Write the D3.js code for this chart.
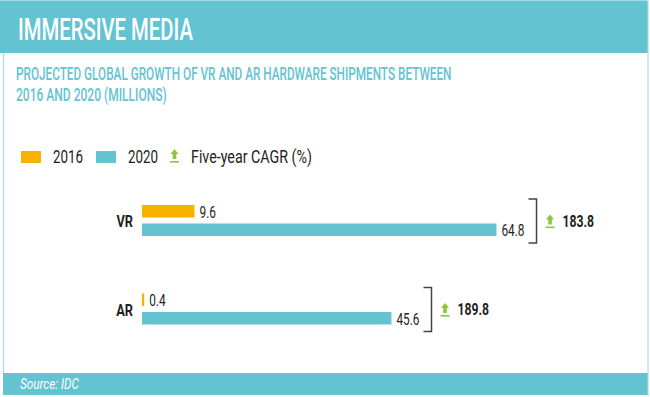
<!DOCTYPE html>
<html><head><meta charset="utf-8">
<script src="https://cdn.jsdelivr.net/npm/d3@7"></script>
<style>html,body{margin:0;padding:0;background:#fff;}svg{display:block;}</style>
</head><body>
<svg id="chart" width="650" height="397"></svg>
<script>
// ---- data ----
const title = "IMMERSIVE MEDIA";
const subtitleLines = ["PROJECTED GLOBAL GROWTH OF VR AND AR HARDWARE SHIPMENTS BETWEEN", "2016 AND 2020 (MILLIONS)"];
const categories = ["VR", "AR"];
const seriesNames = ["2016", "2020"];
const values2016 = [9.6, 0.4];
const values2020 = [64.8, 45.6];
const cagr = [183.8, 189.8];
const cagrLabel = "Five-year CAGR (%)";
const source = "Source: IDC";

const TEAL = "#63C3D1", ORANGE = "#F9B100", GREEN = "#8CC63E", DARK = "#231F20", FRAME = "#A8DCE4";
const FONT = "Roboto, 'DejaVu Sans', sans-serif";

const svg = d3.select("#chart");

// frame
svg.append("rect").attr("x", 0).attr("y", 1).attr("width", 648).attr("height", 52).attr("fill", TEAL);
svg.append("rect").attr("x", 3).attr("y", 373).attr("width", 645).attr("height", 22).attr("fill", TEAL);
svg.append("line").attr("x1", 3.5).attr("x2", 3.5).attr("y1", 53).attr("y2", 373).attr("stroke", FRAME).attr("stroke-width", 1.2);
svg.append("line").attr("x1", 648).attr("x2", 648).attr("y1", 0).attr("y2", 396).attr("stroke", FRAME).attr("stroke-width", 1.2);
svg.append("line").attr("x1", 0).attr("x2", 648).attr("y1", 0.5).attr("y2", 0.5).attr("stroke", FRAME).attr("stroke-width", 1);

// helper: condensed text (horizontal scale; if len given, scale to that width)
function txt(parent, x, y, str, o) {
  const t = parent.append("text")
    .attr("font-family", FONT)
    .attr("font-size", o.size)
    .attr("font-weight", o.weight || 400)
    .attr("font-style", o.style || "normal")
    .attr("fill", o.fill || DARK)
    .attr("text-anchor", o.anchor || "start")
    .text(str);
  let sx = o.sx || 0.75;
  if (o.len) sx = o.len / t.node().getComputedTextLength();
  t.attr("transform", `translate(${x},${y}) scale(${sx},1)`);
  t.datum({sx});
  return t;
}

txt(svg, 18, 40, title, {size: 31, weight: 500, fill: "#fff", len: 175});
txt(svg, 16, 80, subtitleLines[0], {size: 18, weight: 500, fill: TEAL, len: 436});
txt(svg, 16, 101, subtitleLines[1], {size: 18, weight: 500, fill: TEAL, len: 151});
txt(svg, 20, 389, source, {size: 15, fill: "#fff", style: "italic", len: 59});

function arrow(parent, x, y) {
  const g = parent.append("g").attr("transform", `translate(${x},${y})`);
  g.append("path").attr("d", "M4.5,0 L8.5,5 L6.3,5 L6.3,10 L2.7,10 L2.7,5 L0.5,5 Z").attr("fill", GREEN);
  g.append("rect").attr("x", 0).attr("y", 12).attr("width", 9).attr("height", 1.6).attr("fill", GREEN);
  return g;
}

// legend
const color = d3.scaleOrdinal().domain(seriesNames).range([ORANGE, TEAL]);
const legendX = [21, 96];
seriesNames.forEach((s, i) => {
  svg.append("rect").attr("x", legendX[i]).attr("y", 151).attr("width", 20).attr("height", 12).attr("fill", color(s));
  txt(svg, legendX[i] + 32, 163, s, {size: 18, len: 30});
});
arrow(svg, 170, 149);
txt(svg, 191, 163, cagrLabel, {size: 18, len: 121});

// scales
const x = d3.scaleLinear().domain([0, 70]).range([142, 142 + 5.47 * 70]);
const y = d3.scalePoint().domain(categories).range([220.5, 309]);
const ySub = d3.scaleBand().domain(seriesNames).range([-15.5, 15.5]).paddingInner(0.324);

const rows = categories.map((c, i) => ({cat: c, vals: [values2016[i], values2020[i]], cagr: cagr[i]}));

rows.forEach(r => {
  const g = svg.append("g").attr("transform", `translate(0,${y(r.cat)})`);
  txt(g, 133, 6.5, r.cat, {size: 16, weight: 700, anchor: "end", sx: 0.8});
  let maxEnd = 0;
  r.vals.forEach((v, j) => {
    const s = seriesNames[j];
    g.append("rect").attr("x", x(0)).attr("y", ySub(s)).attr("width", Math.max(2, x(v) - x(0)))
      .attr("height", ySub.bandwidth()).attr("fill", color(s));
    const lx = Math.max(x(v), x(0) + 2) + 5;
    const t = txt(g, lx, ySub(s) + ySub.bandwidth(), d3.format(".1f")(v), {size: 16, sx: 0.74});
    const end = lx + t.node().getComputedTextLength() * 0.74;
    maxEnd = Math.max(maxEnd, end);
  });
  const bx = maxEnd + 4;
  const top = ySub(seriesNames[0]) - 6, bot = ySub(seriesNames[1]) + ySub.bandwidth() + 7;
  g.append("path").attr("d", `M${bx},${top} H${bx + 8} V${bot} H${bx}`)
    .attr("fill", "none").attr("stroke", "#444").attr("stroke-width", 1.5);
  arrow(g, bx + 17, -6);
  txt(g, bx + 34, 6, d3.format(".1f")(r.cagr), {size: 17, weight: 700, sx: 0.72});
});
</script>
</body></html>
